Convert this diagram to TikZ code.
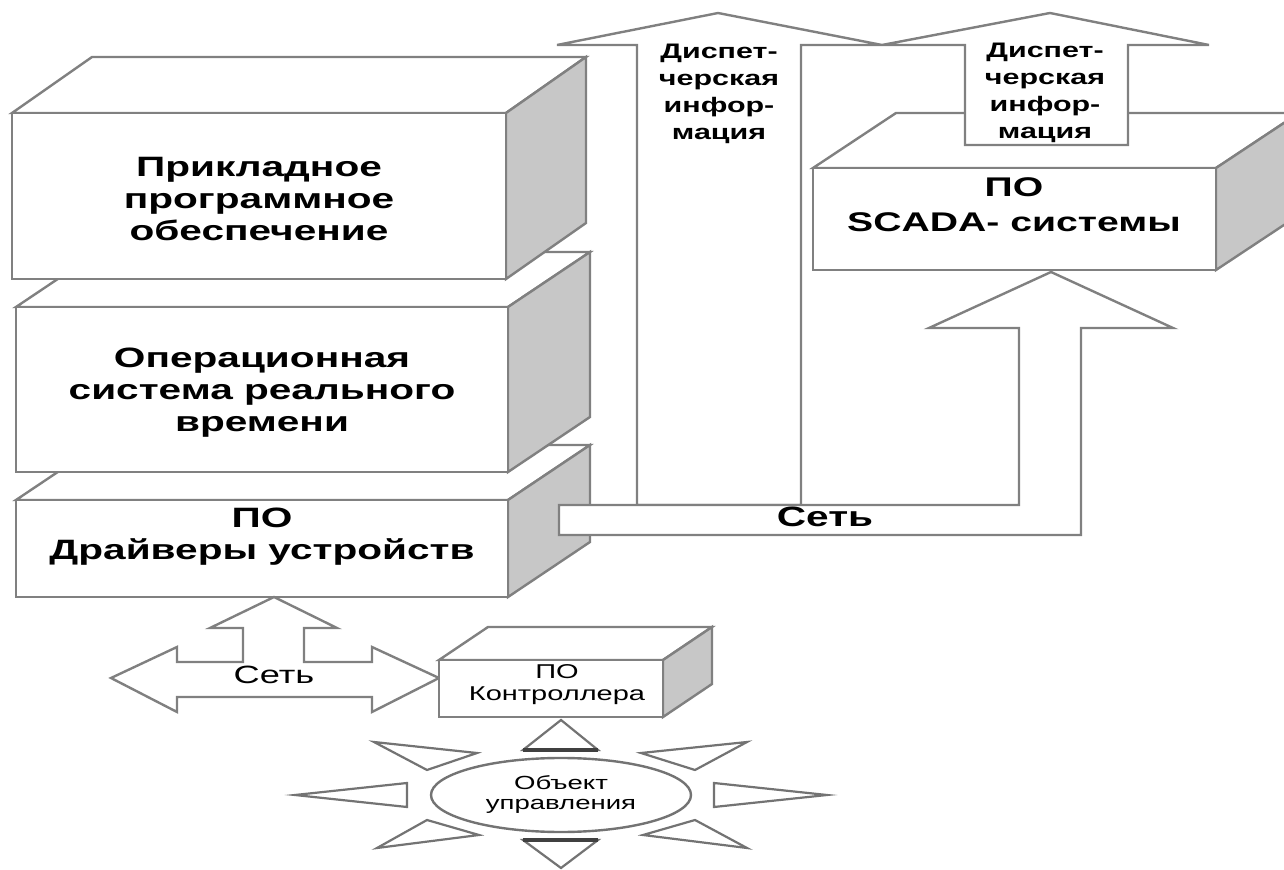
\documentclass[tikz,border=0pt]{standalone}
\usepackage{fontspec}
\setmainfont{Liberation Sans}[FakeStretch=1.45]
\usetikzlibrary{shapes.geometric}
\newcommand{\blockbox}[6]{%
	\filldraw[face] (#1,#2) -- (#1+#5,#2-#6) -- (#3+#5,#2-#6) -- (#3,#2) -- cycle;
	\filldraw[side] (#3,#2) -- (#3+#5,#2-#6) -- (#3+#5,#4-#6) -- (#3,#4) -- cycle;
	\filldraw[face] (#1,#2) rectangle (#3,#4);}
\tikzset{
	face/.style={draw=black!50, fill=white, line width=1.2pt, line join=miter},
	side/.style={face, fill=black!22},
	ray/.style={draw=black!55, fill=white, line width=1.1pt},
	boxtext/.style={font=\fontsize{14}{16}\selectfont\bfseries, align=center, inner sep=0pt},
	disptext/.style={font=\fontsize{10.5}{13.5}\selectfont\bfseries, align=center, inner sep=0pt},
	smalltext/.style={font=\fontsize{10}{11}\selectfont, align=center, inner sep=0pt}
}
\begin{document}
\begin{tikzpicture}[x=0.5pt,y=-0.5pt]
	\useasboundingbox (0,0) rectangle (1284,870);
	\blockbox{16}{500}{508}{597}{82}{55}
	\blockbox{16}{307}{508}{472}{82}{55}
	\blockbox{12}{113}{506}{279}{80}{56}
	\blockbox{813}{168}{1216}{270}{83}{55}
	\filldraw[face] (637,505) -- (637,45) -- (557,45) -- (718,13) -- (882,45) -- (801,45) -- (801,505) -- cycle;
	\filldraw[face] (965,145) -- (965,45) -- (882,45) -- (1050,13) -- (1209,45) -- (1128,45) -- (1128,145) -- cycle;
	\filldraw[face] (559,505) -- (1019,505) -- (1019,328) -- (929,328) -- (1051,272) -- (1173,328) -- (1081,328) -- (1081,535) -- (559,535) -- cycle;
	\filldraw[face] (111,678) -- (177,647) -- (177,662) -- (243,662) -- (243,628) -- (210,628) -- (274,597) -- (337,628) -- (304,628) -- (304,662) -- (372,662) -- (372,647) -- (439,678) -- (372,712) -- (372,697) -- (177,697) -- (177,712) -- cycle;
	\blockbox{439}{660}{663}{717}{49}{33}
	\foreach \a/\b/\c in {{523,750}/{598,750}/{561,720}, {523,840}/{598,840}/{561,868},
		{407,783}/{407,807}/{295,795}, {714,783}/{714,807}/{827,795},
		{477,753}/{427,770}/{374,742}, {641,753}/{695,770}/{747,742},
		{427,820}/{479,835}/{377,848}, {695,820}/{643,835}/{747,848}}{
		\draw[ray] (\a) -- (\b) -- (\c) -- cycle;}
	\draw[line width=1.6pt, black!75] (523,750) -- (598,750) (523,840) -- (598,840);
	\node[boxtext] (app) at (259,199) {Прикладное\\программное\\обеспечение};
	\node[boxtext] (rtos) at (262,393) {Операционная\\система реального\\времени};
	\node[boxtext] (drv) at (262,537) {ПО\\Драйверы устройств};
	\node[boxtext, font=\fontsize{13.5}{17.5}\selectfont\bfseries] (scada) at (1014,205) {ПО\\SCADA- системы};
	\node[disptext] (disp1) at (719,94) {Диспет-\\черская\\инфор-\\мация};
	\node[disptext] (disp2) at (1045,93) {Диспет-\\черская\\инфор-\\мация};
	\node[boxtext, font=\fontsize{14}{15}\selectfont\bfseries] (net) at (825,517) {Сеть};
	\node[boxtext, font=\fontsize{12.5}{15}\selectfont] (netlow) at (274,675) {Сеть};
	\node[smalltext] (ctrl) at (557,685) {ПО\\Контроллера};
	\node[ellipse, draw=black!55, line width=1.2pt, minimum width=130pt, minimum height=37pt, inner sep=0pt, smalltext, font=\fontsize{9.5}{10}\selectfont] (obj) at (561,795) {Объект\\управления};
\end{tikzpicture}
\end{document}
